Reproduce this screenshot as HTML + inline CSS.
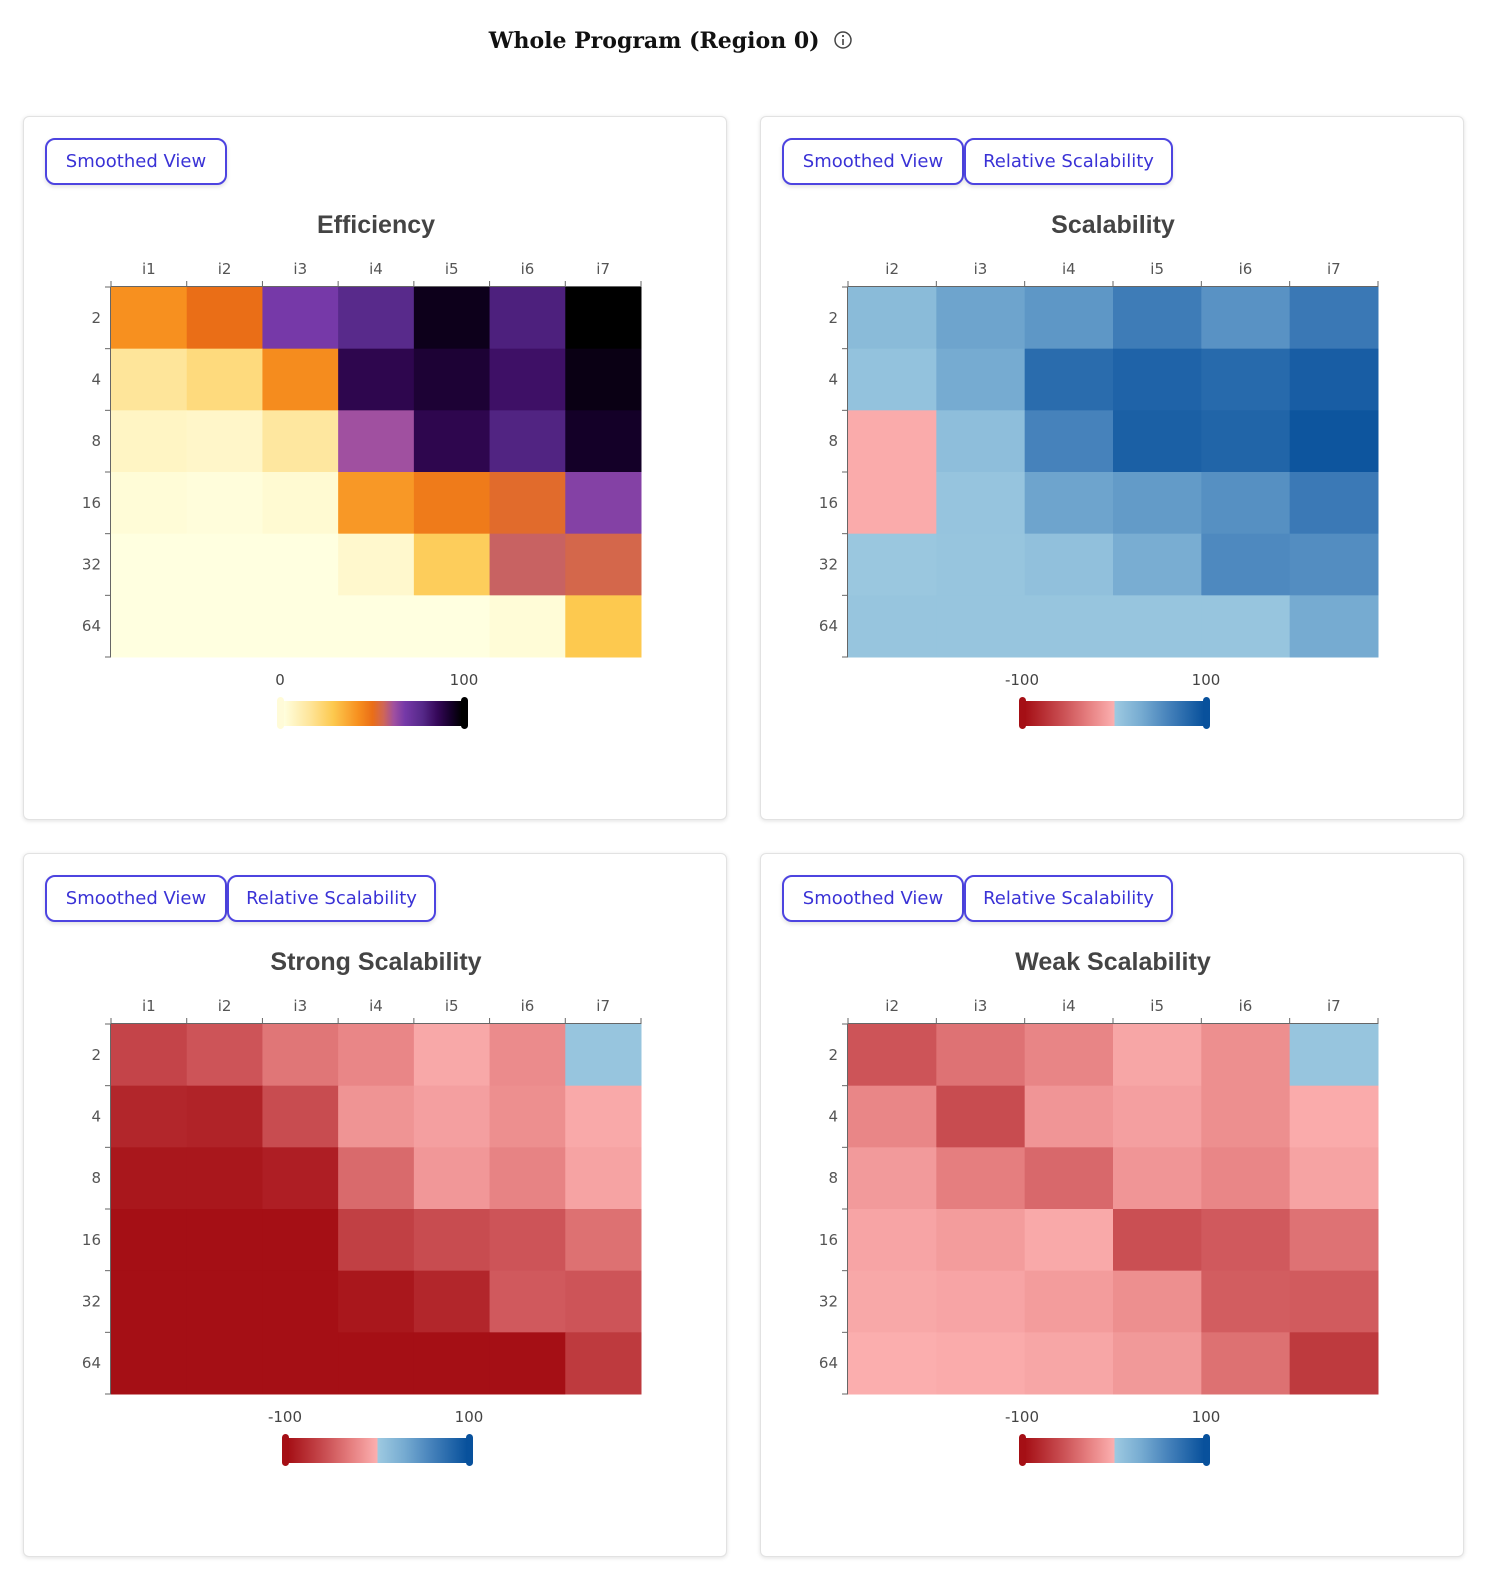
<!DOCTYPE html>
<html><head><meta charset="utf-8">
<style>
body{margin:0;background:#fff;width:1493px;height:1582px;position:relative;font-family:"Liberation Sans","DejaVu Sans",sans-serif;overflow:hidden}
.title{position:absolute;top:28px;left:0;width:1342px;text-align:center;font-family:"DejaVu Serif","Liberation Serif",serif;font-weight:bold;font-size:22px;color:#111}
.card{position:absolute;width:702px;height:702px;border:1px solid #e2e2e2;border-radius:6px;box-shadow:0 1px 4px rgba(0,0,0,0.12);background:#fff}
.btn{position:absolute;top:21px;height:43px;border:2px solid #4d44e0;border-radius:10px;background:#fff;color:#3a32d6;font-size:18px;font-family:"DejaVu Sans","Liberation Sans",sans-serif;line-height:43px;text-align:center;box-shadow:0 2px 4px rgba(0,0,0,0.12)}
svg{position:absolute;left:0;top:0}
</style></head><body>
<div class="title">Whole Program (Region 0) <svg style="position:relative;display:inline-block;vertical-align:middle;top:-2px;margin-left:6px" width="20" height="20"><circle cx="10" cy="10" r="8" fill="none" stroke="#444" stroke-width="1.5"/><line x1="10" y1="9" x2="10" y2="15" stroke="#444" stroke-width="1.6"/><circle cx="10" cy="6" r="1.1" fill="#444"/></svg></div>

<div class="card" id="c0" style="left:23px;top:116px">
<div class="btn" style="left:21px;width:178px">Smoothed View</div></div>
<div class="card" id="c1" style="left:760px;top:116px">
<div class="btn" style="left:21px;width:178px">Smoothed View</div>
<div class="btn" style="left:203px;width:205px">Relative Scalability</div></div>
<div class="card" id="c2" style="left:23px;top:853px">
<div class="btn" style="left:21px;width:178px">Smoothed View</div>
<div class="btn" style="left:203px;width:205px">Relative Scalability</div></div>
<div class="card" id="c3" style="left:760px;top:853px">
<div class="btn" style="left:21px;width:178px">Smoothed View</div>
<div class="btn" style="left:203px;width:205px">Relative Scalability</div></div>

<script>
const rowLabels=["2","4","8","16","32","64"];
const colsEff=["i1","i2","i3","i4","i5","i6","i7"];
const colsScal=["i2","i3","i4","i5","i6","i7"];
const effValues=[
[42,50,68,77,96,80,100],
[15,20,43,88,92,84,97],
[6,5,14,62,88,79,94],
[2,1,3,40,47,52,66],
[0,0,0,4,26,57,55],
[0,0,0,0,0,2,28]];
const scalValues=[
[15,35,45,65,48,68],
[8,30,78,85,80,90],
[-3,12,60,88,84,97],
[-3,6,35,42,50,67],
[3,5,10,28,55,52],
[5,5,5,5,5,30]];
const strongValues=[
[-65,-55,-35,-25,-5,-22,5],
[-85,-87,-60,-17,-10,-20,-4],
[-95,-95,-90,-42,-15,-27,-8],
[-100,-100,-100,-68,-60,-55,-38],
[-100,-100,-100,-95,-85,-52,-55],
[-100,-100,-100,-100,-100,-100,-72]];
const weakValues=[
[-55,-37,-26,-6,-20,5],
[-25,-60,-16,-10,-20,-3],
[-13,-30,-43,-16,-25,-8],
[-7,-12,-4,-58,-52,-37],
[-5,-7,-12,-20,-50,-51],
[-1,-3,-6,-14,-38,-72]];
const effTicks=["0","100"];
const divTicks=["-100","100"];

const effStops=[[0,"#ffffe0"],[15,"#fee59a"],[28,"#fdc94f"],[42,"#f7901f"],[50,"#ea6e17"],[56,"#d06655"],[62,"#a050a0"],[68,"#7639a8"],[78,"#552888"],[86,"#36085a"],[94,"#140028"],[100,"#000000"]];
const divStops=[[-100,"#a50f15"],[-60,"#c84c50"],[-30,"#e57e7f"],[0,"#fcb0b0"],[0.01,"#9ecae1"],[30,"#76abd1"],[60,"#4682bb"],[100,"#08519c"]];
function hex(h){return [1,3,5].map(i=>parseInt(h.substr(i,2),16));}
function scale(stops,v){
  if(v<=stops[0][0])return stops[0][1];
  for(let i=1;i<stops.length;i++){if(v<=stops[i][0]){const a=stops[i-1],b=stops[i];const t=(v-a[0])/(b[0]-a[0]);const A=hex(a[1]),B=hex(b[1]);return "rgb("+A.map((x,k)=>Math.round(x+(B[k]-x)*t)).join(",")+")";}}
  return stops[stops.length-1][1];
}
const NS="http://www.w3.org/2000/svg";
function el(p,tag,attrs,txt){const e=document.createElementNS(NS,tag);for(const k in attrs)e.setAttribute(k,attrs[k]);if(txt!==undefined)e.textContent=txt;p.appendChild(e);return e;}

function drawChart(cardId,title,cols,values,stops,ticks,lo,hi,barL,barR,capL,capR,name){
  const card=document.getElementById(cardId);
  const svg=el(card,"svg",{width:702,height:702});
  
  
  const t=el(svg,"text",{x:352,y:116,"text-anchor":"middle","font-size":25,"font-weight":"bold",fill:"#444","font-family":"Liberation Sans, DejaVu Sans, sans-serif"},title);
  
  
  const X0=87,X1=617,Y0=170,Y1=540;
  const cw=(X1-X0)/cols.length, rh=(Y1-Y0)/rowLabels.length;
  const xPos=i=>X0+i*cw, yPos=j=>Y0+j*rh;
  values.forEach((row,j)=>row.forEach((v,i)=>{
    const r=el(svg,"rect",{x:xPos(i),y:yPos(j),width:cw+0.5,height:rh+0.5,fill:scale(stops,v)});
    
    
  }));
  el(svg,"line",{x1:X0,y1:Y0-0.5,x2:X1,y2:Y0-0.5,stroke:"#666","stroke-width":1});
  el(svg,"line",{x1:X0-0.5,y1:Y0,x2:X0-0.5,y2:Y1,stroke:"#666","stroke-width":1});
  for(let i=0;i<=cols.length;i++)el(svg,"line",{x1:xPos(i),y1:Y0-6,x2:xPos(i),y2:Y0,stroke:"#666"});
  cols.forEach((c,i)=>{const tx=el(svg,"text",{x:xPos(i)+cw/2,y:Y0-13,"text-anchor":"middle","font-size":15,fill:"#555","font-family":"DejaVu Sans, Liberation Sans, sans-serif"},c);
    
    });
  for(let j=0;j<=rowLabels.length;j++)el(svg,"line",{x1:X0-6,y1:yPos(j),x2:X0,y2:yPos(j),stroke:"#666"});
  rowLabels.forEach((r,j)=>{const tx=el(svg,"text",{x:X0-10,y:yPos(j)+rh/2+5,"text-anchor":"end","font-size":15,fill:"#555","font-family":"DejaVu Sans, Liberation Sans, sans-serif"},r);
    
    });
  const g=el(svg,"g",{});
  
  
  const defs=el(svg,"defs",{});
  const gr=el(defs,"linearGradient",{id:"g"+cardId,x1:0,x2:1,y1:0,y2:0});
  stops.forEach(s=>el(gr,"stop",{offset:((s[0]-lo)/(hi-lo)*100)+"%","stop-color":s[1]}));
  el(g,"rect",{x:barL,y:584,width:barR-barL,height:25,fill:"url(#g"+cardId+")"});
  el(g,"rect",{x:barL-6,y:580,width:7,height:32,rx:3.5,fill:capL});
  el(g,"rect",{x:barR-1,y:580,width:7,height:32,rx:3.5,fill:capR});
  const tl=el(g,"text",{x:barL-3,y:568,"text-anchor":"middle","font-size":15,fill:"#444","font-family":"DejaVu Sans, Liberation Sans, sans-serif"},ticks[0]);
  
  
  const tr=el(g,"text",{x:barR+2,y:568,"text-anchor":"middle","font-size":15,fill:"#444","font-family":"DejaVu Sans, Liberation Sans, sans-serif"},ticks[1]);
  
  
}
drawChart("c0","Efficiency",colsEff,effValues,effStops,effTicks,0,100,259,438,"#fffbd8","#000","efficiency");
drawChart("c1","Scalability",colsScal,scalValues,divStops,divTicks,-100,100,264,443,"#a50f15","#08519c","scalability");
drawChart("c2","Strong Scalability",colsEff,strongValues,divStops,divTicks,-100,100,264,443,"#a50f15","#08519c","strong-scalability");
drawChart("c3","Weak Scalability",colsScal,weakValues,divStops,divTicks,-100,100,264,443,"#a50f15","#08519c","weak-scalability");
</script>
</body></html>
